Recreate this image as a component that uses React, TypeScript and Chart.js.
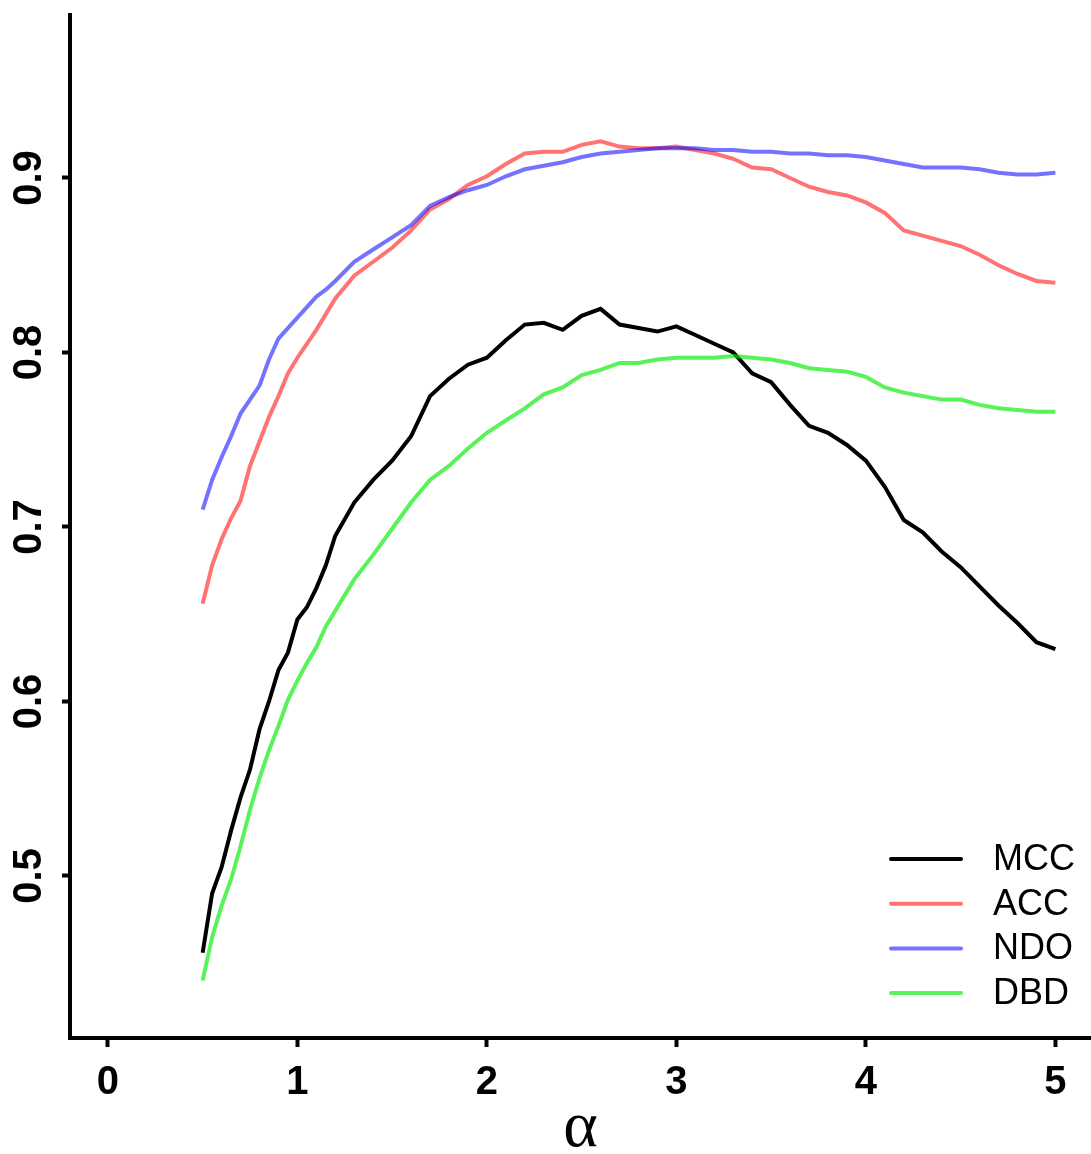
import React, { useEffect, useRef } from "react";
import { Chart, registerables } from "chart.js";

Chart.register(...registerables);

const alphaValues = [
  0.5, 0.55, 0.6, 0.65, 0.7, 0.75, 0.8, 0.85, 0.9, 0.95, 1.0, 1.05, 1.1, 1.15, 1.2,
  1.3, 1.4, 1.5, 1.6, 1.7, 1.8, 1.9, 2.0, 2.1, 2.2, 2.3, 2.4, 2.5, 2.6, 2.7, 2.8, 2.9,
  3.0, 3.1, 3.2, 3.3, 3.4, 3.5, 3.6, 3.7, 3.8, 3.9, 4.0, 4.1, 4.2, 4.3, 4.4, 4.5, 4.6,
  4.7, 4.8, 4.9, 5.0,
];

const mccValues = [
  0.456, 0.49, 0.505, 0.526, 0.545, 0.561, 0.584, 0.6, 0.618, 0.628, 0.647, 0.654, 0.665, 0.678, 0.695,
  0.714, 0.727, 0.738, 0.752, 0.775, 0.785, 0.793, 0.797, 0.807, 0.816, 0.817, 0.813, 0.821, 0.825, 0.816, 0.814, 0.812,
  0.815, 0.81, 0.805, 0.8, 0.788, 0.783, 0.77, 0.758, 0.754, 0.747, 0.738, 0.723, 0.704, 0.697, 0.686, 0.677, 0.666,
  0.655, 0.645, 0.634, 0.63,
];

const accValues = [
  0.656, 0.678, 0.693, 0.705, 0.715, 0.735, 0.749, 0.763, 0.775, 0.788, 0.797, 0.805, 0.813, 0.822, 0.831,
  0.844, 0.852, 0.86, 0.87, 0.882, 0.888, 0.896, 0.901, 0.908, 0.914, 0.915, 0.915, 0.919, 0.921, 0.918, 0.917, 0.917,
  0.918, 0.916, 0.914, 0.911, 0.906, 0.905, 0.9, 0.895, 0.892, 0.89, 0.886, 0.88, 0.87, 0.867, 0.864, 0.861, 0.856,
  0.85, 0.845, 0.841, 0.84,
];

const ndoValues = [
  0.71, 0.727, 0.74, 0.752, 0.765, 0.773, 0.781, 0.796, 0.808, 0.814, 0.82, 0.826, 0.832, 0.836, 0.841,
  0.852, 0.859, 0.866, 0.873, 0.884, 0.889, 0.893, 0.896, 0.901, 0.905, 0.907, 0.909, 0.912, 0.914, 0.915, 0.916, 0.917,
  0.917, 0.917, 0.916, 0.916, 0.915, 0.915, 0.914, 0.914, 0.913, 0.913, 0.912, 0.91, 0.908, 0.906, 0.906, 0.906, 0.905,
  0.903, 0.902, 0.902, 0.903,
];

const dbdValues = [
  0.44, 0.465, 0.483, 0.498, 0.517, 0.538, 0.556, 0.572, 0.586, 0.601, 0.612, 0.622, 0.631, 0.643, 0.652,
  0.67, 0.684, 0.699, 0.714, 0.727, 0.735, 0.745, 0.754, 0.761, 0.768, 0.776, 0.78, 0.787, 0.79, 0.794, 0.794, 0.796,
  0.797, 0.797, 0.797, 0.798, 0.797, 0.796, 0.794, 0.791, 0.79, 0.789, 0.786, 0.78, 0.777, 0.775, 0.773, 0.773, 0.77,
  0.768, 0.767, 0.766, 0.766,
];

const seriesNames = ["MCC", "ACC", "NDO", "DBD"];
const seriesColors = ["#000000", "rgba(255,0,0,0.55)", "rgba(0,0,255,0.55)", "rgba(0,235,0,0.65)"];
const xTicks = [0, 1, 2, 3, 4, 5];
const yTicks = [0.5, 0.6, 0.7, 0.8, 0.9];
const xTitle = "\u03b1";

const legendPlugin = {
  id: "cornerLegend",
  afterDraw(chart: any) {
    const ctx = chart.ctx;
    ctx.save();
    chart.data.datasets.forEach((ds: any, i: number) => {
      const y = 859 + i * 44.7;
      ctx.strokeStyle = ds.borderColor;
      ctx.lineWidth = 4;
      ctx.lineCap = "round";
      ctx.beginPath();
      ctx.moveTo(891, y);
      ctx.lineTo(961, y);
      ctx.stroke();
      ctx.fillStyle = "#000";
      ctx.font = "36px 'Liberation Sans', Arial, sans-serif";
      ctx.textAlign = "left";
      ctx.textBaseline = "middle";
      ctx.fillText(ds.label, 993, y + 1);
    });
    ctx.restore();
  },
};

export default function App() {
  const ref = useRef<HTMLCanvasElement | null>(null);

  useEffect(() => {
    if (!ref.current) return;
    const allSeries = [mccValues, accValues, ndoValues, dbdValues];
    const chart = new Chart(ref.current, {
      type: "line",
      data: {
        datasets: allSeries.map((vals, i) => ({
          label: seriesNames[i],
          data: alphaValues.map((x, j) => ({ x, y: vals[j] })),
          borderColor: seriesColors[i],
          backgroundColor: seriesColors[i],
          borderWidth: 4,
          pointRadius: 0,
          tension: 0,
          fill: false,
          order: 4 - i,
        })),
      },
      options: {
        responsive: false,
        animation: false,
        layout: { padding: { top: 15, left: 0, right: 0, bottom: 0 } },
        plugins: { legend: { display: false }, tooltip: { enabled: false } },
        scales: {
          x: {
            type: "linear",
            min: -0.2,
            max: 5.188,
            afterBuildTicks: (scale: any) => {
              scale.ticks = xTicks.map((v) => ({ value: v }));
            },
            afterFit: (scale: any) => {
              scale.height = 116;
              scale.paddingLeft = 0;
              scale.paddingRight = 0;
            },
            grid: {
              drawOnChartArea: false,
              drawTicks: true,
              tickLength: 9,
              tickWidth: 4,
              color: "#000",
            },
            border: { display: true, color: "#000", width: 4 },
            ticks: {
              color: "#000",
              padding: 12,
              maxRotation: 0,
              font: { family: "'Liberation Sans', Arial, sans-serif", size: 40, weight: "bold" },
              callback: (v: any) => String(v),
            },
            title: {
              display: true,
              text: xTitle,
              color: "#000",
              font: { family: "'Liberation Serif', 'Times New Roman', serif", size: 66, lineHeight: 0.76 },
              padding: { top: 0, bottom: 0 },
            },
          },
          y: {
            type: "linear",
            min: 0.40716,
            max: 0.99341,
            afterBuildTicks: (scale: any) => {
              scale.ticks = yTicks.map((v) => ({ value: v }));
            },
            afterFit: (scale: any) => {
              scale.width = 70;
              scale.paddingTop = 0;
              scale.paddingBottom = 0;
            },
            grid: {
              drawOnChartArea: false,
              drawTicks: true,
              tickLength: 8,
              tickWidth: 4,
              color: "#000",
            },
            border: { display: true, color: "#000", width: 4 },
            ticks: {
              color: "#000",
              padding: 4,
              minRotation: 90,
              maxRotation: 90,
              crossAlign: "center",
              font: { family: "'Liberation Sans', Arial, sans-serif", size: 40, weight: "bold" },
              callback: (v: any) => Number(v).toFixed(1),
            },
          },
        },
      },
      plugins: [legendPlugin],
    } as any);
    return () => chart.destroy();
  }, []);

  return (
    <div style={{ position: "absolute", left: 0, top: 0, width: 1091, height: 1154, background: "#fff" }}>
      <canvas ref={ref} width={1091} height={1154} style={{ width: 1091, height: 1154, display: "block" }} />
    </div>
  );
}
